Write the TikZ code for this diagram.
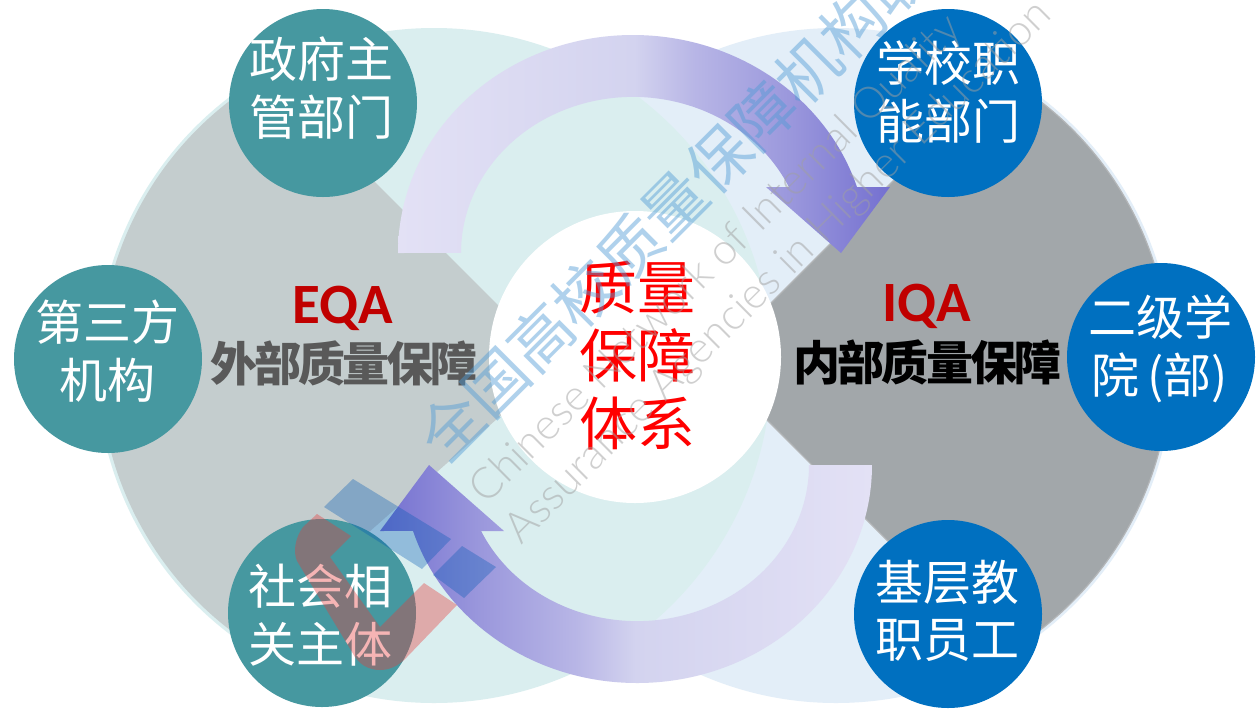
\documentclass[tikz,border=0pt]{standalone}
\usepackage{fontspec}
\newfontfamily\cjk{Noto Sans CJK SC}
\newfontfamily\cjkheavy[LetterSpace=-6]{Noto Sans CJK SC Black}
\newfontfamily\capsb{Carlito}
\newfontfamily\wmlat{Lato Light}
\definecolor{teal1}{HTML}{4698A0}
\definecolor{blue1}{HTML}{0070C0}
\definecolor{lteal}{HTML}{DAEEEF}
\definecolor{lblue}{HTML}{E3EEF8}
\definecolor{gleft}{HTML}{C4CDCE}
\definecolor{gright}{HTML}{A2A7AA}
\definecolor{gedge}{HTML}{B4B6B8}
\definecolor{darkred}{HTML}{C00000}
\definecolor{darkgrey}{HTML}{595959}
\definecolor{wmblue}{HTML}{4F9BD5}
\definecolor{wmgrey}{HTML}{A0A0A0}
\definecolor{ovblue}{HTML}{0058B4}
\definecolor{ovpink}{HTML}{E53C3C}
\definecolor{aA}{HTML}{E3E1F5}
\definecolor{aB}{HTML}{D3D3EF}
\definecolor{aC}{HTML}{B8B6E6}
\definecolor{aD}{HTML}{9A97DC}
\definecolor{aE}{HTML}{7470D0}
\pgfdeclarehorizontalshading{arrR}{100bp}{color(0bp)=(aA); color(25bp)=(aA); color(49bp)=(aB); color(55bp)=(aC); color(65bp)=(aD); color(75bp)=(aE); color(100bp)=(aE)}
\pgfdeclarehorizontalshading{arrL}{100bp}{color(0bp)=(aE); color(25bp)=(aE); color(35bp)=(aD); color(45bp)=(aC); color(51bp)=(aB); color(75bp)=(aA); color(100bp)=(aA)}
\newcommand{\arrowshape}{(-235,0) arc[start angle=180,end angle=342.4,x radius=235,y radius=218] -- (257,-66) -- (208,0) -- (133,-66) -- (155.9,-66) arc[start angle=335,end angle=180,x radius=172,y radius=156] -- cycle}
\tikzset{
  disc/.style={circle,minimum size=188pt,inner sep=0pt,draw=none},
  disclabel/.style={text=white,align=center,inner sep=0pt,font=\fontsize{48}{57.5}\selectfont\cjk},
  headcap/.style={text=darkred,inner sep=0pt,anchor=base,font=\fontsize{57}{60}\selectfont\capsb\bfseries},
  headcjk/.style={inner sep=0pt,font=\fontsize{47}{50}\selectfont\cjkheavy},
  wmgreytext/.style={text=wmgrey,text opacity=.5,inner sep=0pt,anchor=west,rotate=44.8,font=\fontsize{43.2}{43.2}\selectfont\wmlat},
}
\begin{document}
\begin{tikzpicture}[x=1pt,y=1pt,yscale=-1]
\useasboundingbox (0,0) rectangle (1258,713);
\fill[white] (0,0) rectangle (1258,713);
% large background circles
\fill[lblue] (836,365.5) circle[radius=337.5];
\fill[lteal] (434,365.5) circle[radius=337.5];
% grey wedges
\fill[gleft] (558,365) -- (268.2,75.2) arc[start angle=240.3,end angle=124.3,radius=334] -- cycle;
\draw[gedge,fill=gright,line width=1.2pt] (710.5,363.5) -- (999.6,74.4) arc[start angle=-60.7,end angle=60.2,radius=334] -- cycle;
% curved arrows
\shade[shading=arrR,shift={(633,253)}] \arrowshape;
\shade[shading=arrL,shift={(637,465)},rotate=180] \arrowshape;
% centre
\node[circle,fill=white,minimum size=292pt,inner sep=0pt] (centre) at (635,357) {};
% satellite discs
\node[disc,fill=teal1] (gov) at (323,103) {};
\node[disc,fill=teal1] (third) at (108,359) {};
\node[disc,fill=teal1] (soc) at (322,613) {};
\node[disc,fill=blue1] (sch) at (948,103) {};
\node[disc,fill=blue1] (col) at (1161,357) {};
\node[disc,fill=blue1] (staff) at (948,614) {};
\node[disclabel] (govt) at (321,88) {政府主\\管部门};
\node[disclabel] (thirdt) at (107,351) {第三方\\机构};
\node[disclabel] (soct) at (320,615) {社会相\\关主体};
\node[disclabel] (scht) at (948,92) {学校职\\能部门};
\node[disclabel] (colt) at (1160,349) {二级学\\院\,(部)};
\node[disclabel] (stafft) at (947,611) {基层教\\职员工};
% headings
\node[headcap] (eqa) at (343,323) {EQA};
\node[headcjk,text=darkgrey] (eqat) at (344,363) {外部质量保障};
\node[headcap] (iqa) at (926.5,321) {IQA};
\node[headcjk,text=black] (iqat) at (927.5,362) {内部质量保障};
\node[text=red,align=center,inner sep=0pt,font=\fontsize{58}{68}\selectfont\cjk] (ct) at (637,356) {质量\\保障\\体系};
% watermark logo
\fill[ovpink,opacity=.38] (317,514) -- (351,536) -- (330,557) -- (380,627) -- (424,583) -- (457,605) -- (407,657) .. controls (398,667) and (388,670) .. (380,670) .. controls (368,670) and (358,664) .. (352,652) -- (297,561) .. controls (293,552) and (295,538) .. (303,527) -- cycle;
\fill[ovblue,opacity=.33] (353,479) -- (324,507) -- (422,569) -- (451,539) -- cycle;
\fill[ovblue,opacity=.33] (462,546) -- (496,567) -- (464,598) -- (433,575) -- cycle;
% watermark text
\node[text=wmblue,text opacity=.45,inner sep=0pt,anchor=west,rotate=45,font=\fontsize{63}{63}\selectfont\cjk] (wm1) at (429,449) {全国高校质量保障机构联盟};
\node[wmgreytext] (wm2) at (478,497) {Chinese Network of Internal Quality};
\node[wmgreytext] (wm3) at (513,537) {Assurance Agencies in Higher Education};
\end{tikzpicture}
\end{document}
